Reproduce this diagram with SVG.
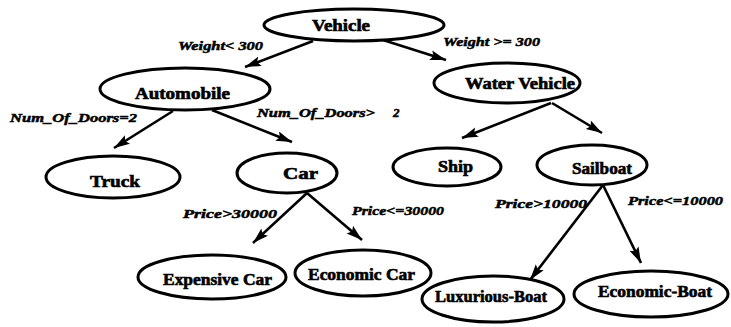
<svg xmlns="http://www.w3.org/2000/svg" width="731" height="327" viewBox="0 0 731 327">
<style>
.node ellipse{fill:#fff;stroke:#000;stroke-width:3}
.node text{font-family:"Liberation Serif",serif;font-weight:bold;font-size:16px;fill:#000;stroke:#000;stroke-width:0.6}
.lbl{font-family:"Liberation Serif",serif;font-weight:bold;font-style:italic;font-size:13px;fill:#000;stroke:#000;stroke-width:0.5}
.edge{stroke:#000;stroke-width:2.6;fill:none}
</style>
<defs>
<marker id="ah" markerUnits="userSpaceOnUse" markerWidth="18" markerHeight="12" refX="16" refY="5" orient="auto">
<path d="M0,0 L16,5 L0,10 L3,5 Z" fill="#000"/>
</marker>
</defs>
<rect width="731" height="327" fill="#fff"/>
<g id="connectors">
<line class="edge" x1="313" y1="41" x2="245" y2="67" marker-end="url(#ah)"/>
<line class="edge" x1="383" y1="40" x2="446" y2="60" marker-end="url(#ah)"/>
<line class="edge" x1="173" y1="111" x2="114" y2="148" marker-end="url(#ah)"/>
<line class="edge" x1="212" y1="110" x2="292" y2="142" marker-end="url(#ah)"/>
<line class="edge" x1="551" y1="103" x2="462" y2="138" marker-end="url(#ah)"/>
<line class="edge" x1="552" y1="103" x2="602" y2="133" marker-end="url(#ah)"/>
<line class="edge" x1="307" y1="193" x2="253" y2="243" marker-end="url(#ah)"/>
<line class="edge" x1="307" y1="193" x2="362" y2="240" marker-end="url(#ah)"/>
<line class="edge" x1="603" y1="185" x2="530" y2="280" marker-end="url(#ah)"/>
<line class="edge" x1="603" y1="185" x2="641" y2="263" marker-end="url(#ah)"/>
<text class="lbl" x="178" y="50" textLength="85" lengthAdjust="spacingAndGlyphs">Weight&lt; 300</text>
<text class="lbl" x="443" y="46" textLength="97" lengthAdjust="spacingAndGlyphs">Weight &gt;= 300</text>
<text class="lbl" x="10" y="122" textLength="127" lengthAdjust="spacingAndGlyphs">Num_Of_Doors=2</text>
<text class="lbl" x="257" y="117" textLength="118" lengthAdjust="spacingAndGlyphs">Num_Of_Doors&gt;</text>
<text class="lbl" x="393" y="117">2</text>
<text class="lbl" x="183" y="218" textLength="94" lengthAdjust="spacingAndGlyphs">Price&gt;30000</text>
<text class="lbl" x="352" y="215" textLength="92" lengthAdjust="spacingAndGlyphs">Price&lt;=30000</text>
<text class="lbl" x="495" y="208" textLength="92" lengthAdjust="spacingAndGlyphs">Price&gt;10000</text>
<text class="lbl" x="628" y="205" textLength="95" lengthAdjust="spacingAndGlyphs">Price&lt;=10000</text>
</g>
<g id="vehicle" class="node"><ellipse cx="354" cy="25" rx="90" ry="16"/><text x="312" y="31" textLength="58" lengthAdjust="spacingAndGlyphs">Vehicle</text></g>
<g id="automobile" class="node"><ellipse cx="185" cy="89" rx="85" ry="21"/><text x="135" y="99" textLength="95" lengthAdjust="spacingAndGlyphs">Automobile</text></g>
<g id="water-vehicle" class="node"><ellipse cx="507" cy="83" rx="73" ry="20"/><text x="465" y="89" textLength="110" lengthAdjust="spacingAndGlyphs">Water Vehicle</text></g>
<g id="truck" class="node"><ellipse cx="113" cy="177" rx="67" ry="21"/><text x="90" y="187" textLength="50" lengthAdjust="spacingAndGlyphs">Truck</text></g>
<g id="car" class="node"><ellipse cx="287" cy="173" rx="50" ry="20"/><text x="283" y="179" textLength="35" lengthAdjust="spacingAndGlyphs">Car</text></g>
<g id="ship" class="node"><ellipse cx="447" cy="167" rx="54" ry="19"/><text x="438" y="172" textLength="35" lengthAdjust="spacingAndGlyphs">Ship</text></g>
<g id="sailboat" class="node"><ellipse cx="592" cy="165" rx="55" ry="20"/><text x="572" y="174" textLength="60" lengthAdjust="spacingAndGlyphs">Sailboat</text></g>
<g id="expensive-car" class="node"><ellipse cx="212" cy="277" rx="74" ry="22"/><text x="163" y="285" textLength="109" lengthAdjust="spacingAndGlyphs">Expensive Car</text></g>
<g id="economic-car" class="node"><ellipse cx="363" cy="273" rx="68" ry="23"/><text x="308" y="280" textLength="107" lengthAdjust="spacingAndGlyphs">Economic Car</text></g>
<g id="luxurious-boat" class="node"><ellipse cx="493" cy="299" rx="71" ry="23"/><text x="435" y="302" textLength="112" lengthAdjust="spacingAndGlyphs">Luxurious-Boat</text></g>
<g id="economic-boat" class="node"><ellipse cx="651" cy="294" rx="77" ry="23"/><text x="598" y="297" textLength="114" lengthAdjust="spacingAndGlyphs">Economic-Boat</text></g>
</svg>
